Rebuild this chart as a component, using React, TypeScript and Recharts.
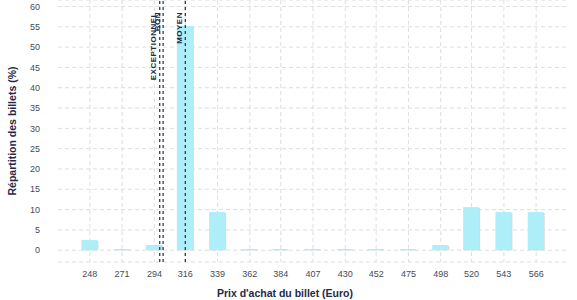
import React from 'react';
import { BarChart, Bar, XAxis, YAxis, CartesianGrid, ReferenceLine, Label } from 'recharts';

const prices = [248, 271, 294, 316, 339, 362, 384, 407, 430, 452, 475, 498, 520, 543, 566];
const shares = [2.5, 0.3, 1.3, 55.2, 9.4, 0.3, 0.3, 0.3, 0.3, 0.3, 0.3, 1.3, 10.6, 9.4, 9.4];
const yTicks = [0, 5, 10, 15, 20, 25, 30, 35, 40, 45, 50, 55, 60];
const thresholdLabels = ['EXCEPTIONNEL', 'BON', 'MOYEN'];
const thresholdPrices = [297.8, 300.2, 316];

const data = prices.map((p, i) => ({ price: p, share: shares[i] }));
const thresholds = thresholdLabels.map((l, i) => ({ label: l, price: thresholdPrices[i] }));

const FONT = '"Liberation Sans", Arial, sans-serif';
const NAVY = '#1e2a48';

const BarShape = (props: any) => {
  const { x, y, width, height } = props;
  if (!height || height <= 0) return null;
  return (
    <g>
      <rect x={x + 1} y={y + 1} width={width} height={Math.max(height - 1, 0)} fill="#d6d9dc" />
      <rect x={x} y={y} width={width} height={height} fill="#adeef8" />
    </g>
  );
};

const refLabel = (text: string) => (props: any) => {
  const vb = props.viewBox || {};
  const cx = (vb.x ?? 0) - 6;
  const cy = 12;
  return (
    <text
      x={cx}
      y={cy}
      transform={`rotate(-90, ${cx}, ${cy})`}
      textAnchor="end"
      dominantBaseline="central"
      fontFamily={FONT}
      fontSize={8}
      fontWeight="bold"
      letterSpacing={0.5}
      fill={NAVY}
    >
      {text}
    </text>
  );
};

const vGen = (props: any) => {
  const xa = props?.xAxis;
  const sc = xa?.scale;
  if (typeof sc === 'function') return prices.map((p) => sc(p));
  const off = props?.offset;
  if (off) {
    const x0 = off.left;
    const w = off.width;
    return prices.map((p) => x0 + ((p - 225.3) / (588.7 - 225.3)) * w);
  }
  return [];
};

export default function App() {
  return (
    <div style={{ position: 'absolute', left: 0, top: 0, width: 577, height: 300, background: '#fff' }}>
      <BarChart width={577} height={300} data={data} margin={{ top: 0, right: 9, bottom: 0, left: 8 }}>
        <CartesianGrid stroke="#dedede" strokeDasharray="4 3" verticalCoordinatesGenerator={vGen} />
        <XAxis
          type="number"
          dataKey="price"
          domain={[225.3, 588.7]}
          ticks={prices}
          interval={0}
          allowDataOverflow
          axisLine={false}
          tickLine={false}
          tickSize={0}
          tickMargin={9}
          height={38}
          tick={{ fontFamily: FONT, fontSize: 9, fill: '#434b5c' }}
        >
          <Label
            content={() => (
              <text x={285} y={297} textAnchor="middle" fontFamily={FONT} fontSize={10.5} fontWeight="bold" fill={NAVY}>
                Prix d'achat du billet (Euro)
              </text>
            )}
          />
        </XAxis>
        <YAxis
          type="number"
          domain={[-2.9, 61.6]}
          ticks={yTicks}
          interval={0}
          allowDataOverflow
          axisLine={false}
          tickLine={false}
          tickSize={0}
          tickMargin={18}
          width={50}
          tick={{ fontFamily: FONT, fontSize: 9, fill: '#434b5c' }}
        >
          <Label
            content={() => (
              <text
                x={12}
                y={131}
                transform="rotate(-90, 12, 131)"
                textAnchor="middle"
                dominantBaseline="central"
                fontFamily={FONT}
                fontSize={10.5}
                fontWeight="bold"
                fill={NAVY}
              >
                Répartition des billets (%)
              </text>
            )}
          />
        </YAxis>
        <Bar dataKey="share" barSize={16} shape={BarShape} isAnimationActive={false} />
        {thresholds.map((t) => (
          <ReferenceLine
            key={t.label}
            x={t.price}
            stroke={NAVY}
            strokeWidth={1.2}
            strokeDasharray="3 3"
            label={refLabel(t.label)}
          />
        ))}
      </BarChart>
    </div>
  );
}
